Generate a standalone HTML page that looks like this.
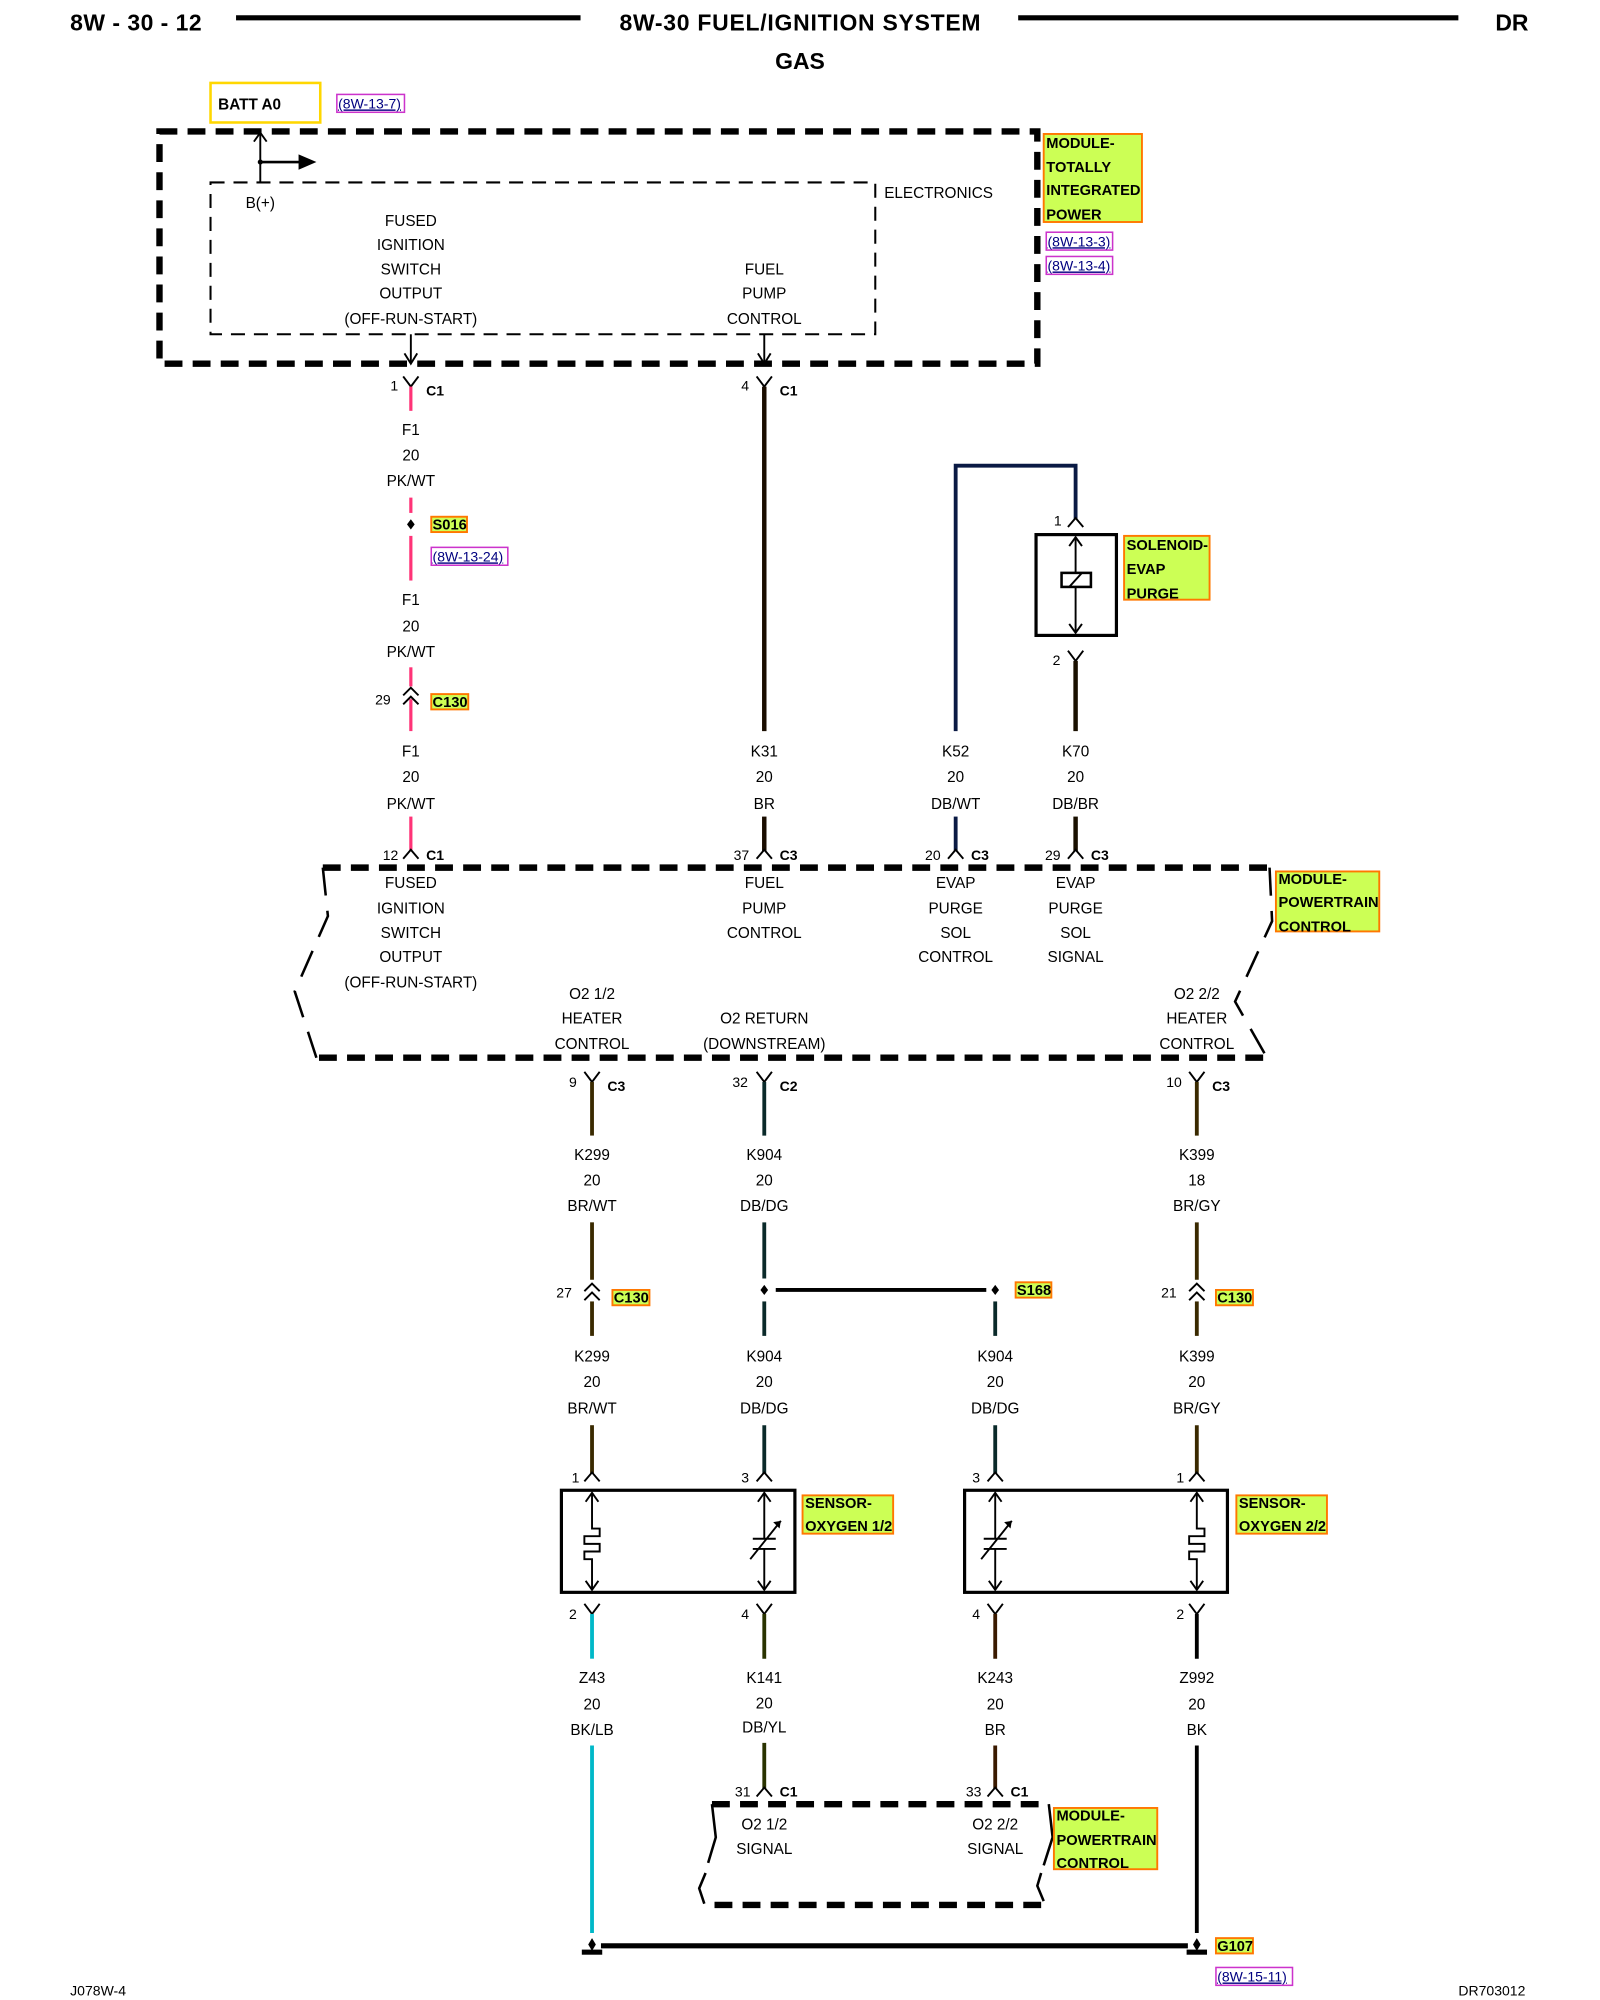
<!DOCTYPE html>
<html><head><meta charset="utf-8"><style>
html,body{margin:0;padding:0;background:#fff}
svg{display:block}
text{font-family:"Liberation Sans",Arial,sans-serif;font-size:12px;fill:#000}
.c{text-anchor:middle}
.b{font-weight:bold}
.h{font-weight:bold;font-size:18px}
.g{font-weight:bold;font-size:11.5px}
.r{font-size:11px;fill:#000080;text-decoration:underline}
.dk{stroke:#000;stroke-width:5;fill:none;stroke-dasharray:14 8}
.dt{stroke:#000;stroke-width:1.6;fill:none;stroke-dasharray:11 7}
.ln{stroke:#000;stroke-width:1.5;fill:none}
.lb{fill:#ccff55;stroke:#ff7700;stroke-width:1.5}
.rf{fill:#fff;stroke:#cc33cc;stroke-width:1.2}
</style></head><body>
<svg width="1600" height="2000" viewBox="0 0 1254 1567.5" preserveAspectRatio="none" xmlns="http://www.w3.org/2000/svg">
<!-- header -->
<text x="55" y="24" class="h" textLength="103">8W - 30 - 12</text>
<line x1="185" y1="14" x2="455" y2="14" stroke="#000" stroke-width="4"/>
<text x="627" y="24" class="h c" textLength="283">8W-30 FUEL/IGNITION SYSTEM</text>
<line x1="798" y1="14" x2="1143" y2="14" stroke="#000" stroke-width="4"/>
<text x="1172" y="24" class="h">DR</text>
<text x="627" y="54" class="h c">GAS</text>

<!-- BATT -->
<rect x="165" y="65" width="86" height="31" fill="#fff" stroke="#ffd700" stroke-width="2"/>
<text x="171" y="86" class="b" style="font-size:12px">BATT A0</text>
<rect x="264" y="74" width="53" height="14" class="rf"/>
<text x="265" y="85" class="r">(8W-13-7)</text>

<!-- TIPM -->
<rect x="125" y="103" width="688" height="182" class="dk"/>
<rect x="165" y="143" width="521" height="119" class="dt"/>
<line x1="204" y1="103" x2="204" y2="143" class="ln"/>
<path d="M199 111 L204 104 L209 111" class="ln"/>
<line x1="204" y1="127" x2="235" y2="127" stroke="#000" stroke-width="2"/>
<circle cx="204" cy="127" r="2"/>
<path d="M234 121 L248 127 L234 133 Z"/>
<text x="204" y="163" class="c">B(+)</text>
<text x="322" y="177" class="c">FUSED</text>
<text x="322" y="196" class="c">IGNITION</text>
<text x="322" y="215" class="c">SWITCH</text>
<text x="322" y="234" class="c">OUTPUT</text>
<text x="322" y="254" class="c">(OFF-RUN-START)</text>
<text x="599" y="215" class="c">FUEL</text>
<text x="599" y="234" class="c">PUMP</text>
<text x="599" y="254" class="c">CONTROL</text>
<text x="693" y="155">ELECTRONICS</text>
<line x1="322" y1="262" x2="322" y2="285" class="ln"/>
<path d="M317 277 L322 285 L327 277" class="ln"/>
<line x1="599" y1="262" x2="599" y2="285" class="ln"/>
<path d="M594 277 L599 285 L604 277" class="ln"/>
<rect x="818" y="105" width="77" height="69" class="lb"/>
<text x="820" y="116" class="g">MODULE-</text>
<text x="820" y="135" class="g">TOTALLY</text>
<text x="820" y="153" class="g">INTEGRATED</text>
<text x="820" y="172" class="g">POWER</text>
<rect x="820" y="182" width="52" height="14" class="rf"/>
<text x="821" y="193" class="r">(8W-13-3)</text>
<rect x="820" y="201" width="52" height="14" class="rf"/>
<text x="821" y="212" class="r">(8W-13-4)</text>

<!-- C1 connectors top -->
<path d="M316 295 L322 303 L328 295" class="ln"/>
<text x="306" y="306" style="font-size:11px">1</text><text x="334" y="310" class="b" style="font-size:11px">C1</text>
<path d="M593 295 L599 303 L605 295" class="ln"/>
<text x="581" y="306" style="font-size:11px">4</text><text x="611" y="310" class="b" style="font-size:11px">C1</text>

<!-- F1 pink wire -->
<g stroke="#ff3377" stroke-width="2.5">
<line x1="322" y1="303" x2="322" y2="322"/>
<line x1="322" y1="390" x2="322" y2="402"/>
<line x1="322" y1="420" x2="322" y2="455"/>
<line x1="322" y1="523" x2="322" y2="538"/>
<line x1="322" y1="548" x2="322" y2="573"/>
<line x1="322" y1="640" x2="322" y2="667"/>
</g>
<text x="322" y="341" class="c">F1</text><text x="322" y="361" class="c">20</text><text x="322" y="381" class="c">PK/WT</text>
<text x="322" y="474" class="c">F1</text><text x="322" y="495" class="c">20</text><text x="322" y="515" class="c">PK/WT</text>
<text x="322" y="593" class="c">F1</text><text x="322" y="613" class="c">20</text><text x="322" y="634" class="c">PK/WT</text>
<path d="M322 407 L325 411 L322 415 L319 411 Z"/>
<rect x="338" y="405" width="28" height="12" class="lb"/><text x="339" y="415" class="g">S016</text>
<rect x="338" y="429" width="60" height="14" class="rf"/><text x="339" y="440" class="r">(8W-13-24)</text>
<path d="M316 545 L322 539 L328 545 M316 552 L322 546 L328 552" class="ln" stroke-width="2"/>
<text x="294" y="552" style="font-size:11px">29</text>
<rect x="338" y="544" width="29" height="12" class="lb"/><text x="339" y="554" class="g">C130</text>

<!-- K31 -->
<line x1="599" y1="303" x2="599" y2="573" stroke="#1a0d00" stroke-width="3.5"/>
<text x="599" y="593" class="c">K31</text><text x="599" y="613" class="c">20</text><text x="599" y="634" class="c">BR</text>
<line x1="599" y1="640" x2="599" y2="667" stroke="#1a0d00" stroke-width="3.5"/>

<!-- K52 -->
<path d="M749 573 L749 365 L843 365 L843 407" stroke="#0a1a44" stroke-width="3" fill="none"/>
<path d="M837 413 L843 406 L849 413" class="ln"/>
<text x="826" y="412" style="font-size:11px">1</text>
<rect x="812" y="419" width="63" height="79" fill="none" stroke="#000" stroke-width="2.5"/>
<line x1="843" y1="421" x2="843" y2="496" class="ln"/>
<path d="M838 428 L843 421 L848 428 M838 489 L843 496 L848 489" class="ln"/>
<rect x="832" y="449" width="23" height="11" fill="#fff" stroke="#000" stroke-width="2"/>
<line x1="838" y1="460" x2="848" y2="449" class="ln"/>
<path d="M837 510 L843 518 L849 510" class="ln"/>
<text x="825" y="521" style="font-size:11px">2</text>
<line x1="843" y1="518" x2="843" y2="573" stroke="#1a1000" stroke-width="3.5"/>
<rect x="881" y="420" width="67" height="50" class="lb"/>
<text x="883" y="431" class="g">SOLENOID-</text><text x="883" y="450" class="g">EVAP</text><text x="883" y="469" class="g">PURGE</text>
<text x="749" y="593" class="c">K52</text><text x="749" y="613" class="c">20</text><text x="749" y="634" class="c">DB/WT</text>
<text x="843" y="593" class="c">K70</text><text x="843" y="613" class="c">20</text><text x="843" y="634" class="c">DB/BR</text>
<line x1="749" y1="640" x2="749" y2="667" stroke="#0a1a44" stroke-width="3"/>
<line x1="843" y1="640" x2="843" y2="667" stroke="#1a1000" stroke-width="3.5"/>

<!-- PCM connectors -->
<g class="ln">
<path d="M316 673 L322 666 L328 673"/><path d="M593 673 L599 666 L605 673"/>
<path d="M743 673 L749 666 L755 673"/><path d="M837 673 L843 666 L849 673"/>
</g>
<text x="300" y="674" style="font-size:11px">12</text><text x="334" y="674" class="b" style="font-size:11px">C1</text>
<text x="575" y="674" style="font-size:11px">37</text><text x="611" y="674" class="b" style="font-size:11px">C3</text>
<text x="725" y="674" style="font-size:11px">20</text><text x="761" y="674" class="b" style="font-size:11px">C3</text>
<text x="819" y="674" style="font-size:11px">29</text><text x="855" y="674" class="b" style="font-size:11px">C3</text>

<!-- PCM box -->
<line x1="253" y1="680" x2="995" y2="680" class="dk"/>
<line x1="250" y1="829" x2="993" y2="829" class="dk"/>
<path d="M253 680 L257 718 L231 777 L248 829" stroke="#000" stroke-width="2" fill="none" stroke-dasharray="22 12"/>
<path d="M995 680 L997 722 L968 785 L993 829" stroke="#000" stroke-width="2" fill="none" stroke-dasharray="22 12"/>
<text x="322" y="696" class="c">FUSED</text><text x="322" y="716" class="c">IGNITION</text><text x="322" y="735" class="c">SWITCH</text><text x="322" y="754" class="c">OUTPUT</text><text x="322" y="774" class="c">(OFF-RUN-START)</text>
<text x="599" y="696" class="c">FUEL</text><text x="599" y="716" class="c">PUMP</text><text x="599" y="735" class="c">CONTROL</text>
<text x="749" y="696" class="c">EVAP</text><text x="749" y="716" class="c">PURGE</text><text x="749" y="735" class="c">SOL</text><text x="749" y="754" class="c">CONTROL</text>
<text x="843" y="696" class="c">EVAP</text><text x="843" y="716" class="c">PURGE</text><text x="843" y="735" class="c">SOL</text><text x="843" y="754" class="c">SIGNAL</text>
<text x="464" y="783" class="c">O2 1/2</text><text x="464" y="802" class="c">HEATER</text><text x="464" y="822" class="c">CONTROL</text>
<text x="599" y="802" class="c">O2 RETURN</text><text x="599" y="822" class="c">(DOWNSTREAM)</text>
<text x="938" y="783" class="c">O2 2/2</text><text x="938" y="802" class="c">HEATER</text><text x="938" y="822" class="c">CONTROL</text>
<rect x="1000" y="683" width="81" height="47" class="lb"/>
<text x="1002" y="693" class="g">MODULE-</text><text x="1002" y="711" class="g">POWERTRAIN</text><text x="1002" y="730" class="g">CONTROL</text>

<!-- below PCM -->
<g class="ln">
<path d="M458 840 L464 848 L470 840"/><path d="M593 840 L599 848 L605 840"/><path d="M932 840 L938 848 L944 840"/>
</g>
<text x="446" y="852" style="font-size:11px">9</text><text x="476" y="855" class="b" style="font-size:11px">C3</text>
<text x="574" y="852" style="font-size:11px">32</text><text x="611" y="855" class="b" style="font-size:11px">C2</text>
<text x="914" y="852" style="font-size:11px">10</text><text x="950" y="855" class="b" style="font-size:11px">C3</text>
<g stroke-width="3">
<line x1="464" y1="848" x2="464" y2="890" stroke="#3a2a00"/>
<line x1="599" y1="848" x2="599" y2="890" stroke="#0a2a2a"/>
<line x1="938" y1="848" x2="938" y2="890" stroke="#3a2a00"/>
<line x1="464" y1="958" x2="464" y2="1003" stroke="#3a2a00"/>
<line x1="599" y1="958" x2="599" y2="1002" stroke="#0a2a2a"/>
<line x1="938" y1="958" x2="938" y2="1003" stroke="#3a2a00"/>
<line x1="464" y1="1020" x2="464" y2="1047" stroke="#3a2a00"/>
<line x1="599" y1="1020" x2="599" y2="1047" stroke="#0a2a2a"/>
<line x1="780" y1="1020" x2="780" y2="1047" stroke="#0a2a2a"/>
<line x1="938" y1="1020" x2="938" y2="1047" stroke="#3a2a00"/>
<line x1="608" y1="1011" x2="773" y2="1011" stroke="#000"/>
</g>
<path d="M599 1007 L602 1011 L599 1015 L596 1011 Z"/>
<path d="M780 1007 L783 1011 L780 1015 L777 1011 Z"/>
<rect x="796" y="1005" width="28" height="12" class="lb"/><text x="797" y="1015" class="g">S168</text>
<text x="464" y="909" class="c">K299</text><text x="464" y="929" class="c">20</text><text x="464" y="949" class="c">BR/WT</text>
<text x="599" y="909" class="c">K904</text><text x="599" y="929" class="c">20</text><text x="599" y="949" class="c">DB/DG</text>
<text x="938" y="909" class="c">K399</text><text x="938" y="929" class="c">18</text><text x="938" y="949" class="c">BR/GY</text>
<text x="464" y="1067" class="c">K299</text><text x="464" y="1087" class="c">20</text><text x="464" y="1108" class="c">BR/WT</text>
<text x="599" y="1067" class="c">K904</text><text x="599" y="1087" class="c">20</text><text x="599" y="1108" class="c">DB/DG</text>
<text x="780" y="1067" class="c">K904</text><text x="780" y="1087" class="c">20</text><text x="780" y="1108" class="c">DB/DG</text>
<text x="938" y="1067" class="c">K399</text><text x="938" y="1087" class="c">20</text><text x="938" y="1108" class="c">BR/GY</text>
<path d="M458 1012 L464 1006 L470 1012 M458 1019 L464 1013 L470 1019" class="ln" stroke-width="2"/>
<path d="M932 1012 L938 1006 L944 1012 M932 1019 L938 1013 L944 1019" class="ln" stroke-width="2"/>
<text x="436" y="1017" style="font-size:11px">27</text>
<text x="910" y="1017" style="font-size:11px">21</text>
<rect x="480" y="1011" width="29" height="12" class="lb"/><text x="481" y="1021" class="g">C130</text>
<rect x="953" y="1011" width="29" height="12" class="lb"/><text x="954" y="1021" class="g">C130</text>

<!-- sensor wires top -->
<g stroke-width="3">
<line x1="464" y1="1117" x2="464" y2="1155" stroke="#3a2a00"/>
<line x1="599" y1="1117" x2="599" y2="1155" stroke="#0a2a2a"/>
<line x1="780" y1="1117" x2="780" y2="1155" stroke="#0a2a2a"/>
<line x1="938" y1="1117" x2="938" y2="1155" stroke="#3a2a00"/>
</g>
<g class="ln">
<path d="M458 1161 L464 1154 L470 1161"/><path d="M593 1161 L599 1154 L605 1161"/>
<path d="M774 1161 L780 1154 L786 1161"/><path d="M932 1161 L938 1154 L944 1161"/>
</g>
<text x="448" y="1162" style="font-size:11px">1</text><text x="581" y="1162" style="font-size:11px">3</text>
<text x="762" y="1162" style="font-size:11px">3</text><text x="922" y="1162" style="font-size:11px">1</text>

<!-- sensor boxes -->
<rect x="440" y="1168" width="183" height="80" fill="none" stroke="#000" stroke-width="2.5"/>
<rect x="756" y="1168" width="206" height="80" fill="none" stroke="#000" stroke-width="2.5"/>
<g class="ln">
<path d="M464 1170 L464 1198 L470 1198 L470 1204 L458 1204 L458 1210 L470 1210 L470 1216 L458 1216 L458 1222 L464 1222 L464 1246"/>
<path d="M459 1177 L464 1170 L469 1177 M459 1239 L464 1246 L469 1239"/>
<path d="M599 1170 L599 1206 M599 1214 L599 1246 M590 1206 L608 1206 M590 1214 L608 1214 M588 1222 L612 1192"/>
<path d="M594 1177 L599 1170 L604 1177 M594 1239 L599 1246 L604 1239"/>
<path d="M780 1170 L780 1206 M780 1214 L780 1246 M771 1206 L789 1206 M771 1214 L789 1214 M769 1222 L793 1192"/>
<path d="M775 1177 L780 1170 L785 1177 M775 1239 L780 1246 L785 1239"/>
<path d="M938 1170 L938 1198 L944 1198 L944 1204 L932 1204 L932 1210 L944 1210 L944 1216 L932 1216 L932 1222 L938 1222 L938 1246"/>
<path d="M933 1177 L938 1170 L943 1177 M933 1239 L938 1246 L943 1239"/>
</g>
<path d="M612 1192 L606 1193 L611 1198 Z"/>
<path d="M793 1192 L787 1193 L792 1198 Z"/>
<rect x="629" y="1172" width="71" height="30" class="lb"/>
<text x="631" y="1182" class="g">SENSOR-</text><text x="631" y="1200" class="g">OXYGEN 1/2</text>
<rect x="969" y="1172" width="71" height="30" class="lb"/>
<text x="971" y="1182" class="g">SENSOR-</text><text x="971" y="1200" class="g">OXYGEN 2/2</text>

<!-- below sensors -->
<g class="ln">
<path d="M458 1257 L464 1265 L470 1257"/><path d="M593 1257 L599 1265 L605 1257"/>
<path d="M774 1257 L780 1265 L786 1257"/><path d="M932 1257 L938 1265 L944 1257"/>
</g>
<text x="446" y="1269" style="font-size:11px">2</text><text x="581" y="1269" style="font-size:11px">4</text>
<text x="762" y="1269" style="font-size:11px">4</text><text x="922" y="1269" style="font-size:11px">2</text>
<g stroke-width="3">
<line x1="464" y1="1265" x2="464" y2="1300" stroke="#00b8c8"/>
<line x1="599" y1="1265" x2="599" y2="1300" stroke="#2a3300"/>
<line x1="780" y1="1265" x2="780" y2="1300" stroke="#3a1a00"/>
<line x1="938" y1="1265" x2="938" y2="1300" stroke="#000"/>
<line x1="464" y1="1368" x2="464" y2="1515" stroke="#00b8c8"/>
<line x1="938" y1="1368" x2="938" y2="1515" stroke="#000"/>
<line x1="599" y1="1366" x2="599" y2="1402" stroke="#2a3300"/>
<line x1="780" y1="1368" x2="780" y2="1402" stroke="#3a1a00"/>
</g>
<text x="464" y="1319" class="c">Z43</text><text x="464" y="1340" class="c">20</text><text x="464" y="1360" class="c">BK/LB</text>
<text x="599" y="1319" class="c">K141</text><text x="599" y="1339" class="c">20</text><text x="599" y="1358" class="c">DB/YL</text>
<text x="780" y="1319" class="c">K243</text><text x="780" y="1340" class="c">20</text><text x="780" y="1360" class="c">BR</text>
<text x="938" y="1319" class="c">Z992</text><text x="938" y="1340" class="c">20</text><text x="938" y="1360" class="c">BK</text>
<g class="ln">
<path d="M593 1408 L599 1401 L605 1408"/><path d="M774 1408 L780 1401 L786 1408"/>
</g>
<text x="576" y="1408" style="font-size:11px">31</text><text x="611" y="1408" class="b" style="font-size:11px">C1</text>
<text x="757" y="1408" style="font-size:11px">33</text><text x="792" y="1408" class="b" style="font-size:11px">C1</text>

<!-- bottom PCM -->
<line x1="558" y1="1414" x2="822" y2="1414" class="dk"/>
<line x1="560" y1="1493" x2="822" y2="1493" class="dk"/>
<path d="M558 1414 L561 1440 L555 1460 M553 1468 L548 1480 L552 1492" stroke="#000" stroke-width="2" fill="none"/>
<path d="M822 1414 L825 1440 L818 1462 M816 1468 L813 1478 L818 1490" stroke="#000" stroke-width="2" fill="none"/>
<text x="599" y="1434" class="c">O2 1/2</text><text x="599" y="1453" class="c">SIGNAL</text>
<text x="780" y="1434" class="c">O2 2/2</text><text x="780" y="1453" class="c">SIGNAL</text>
<rect x="826" y="1417" width="81" height="48" class="lb"/>
<text x="828" y="1427" class="g">MODULE-</text><text x="828" y="1446" class="g">POWERTRAIN</text><text x="828" y="1464" class="g">CONTROL</text>

<!-- ground -->
<line x1="471" y1="1525" x2="931" y2="1525" stroke="#000" stroke-width="4"/>
<path d="M464 1519 L467 1524 L464 1529 L461 1524 Z"/>
<path d="M938 1519 L941 1524 L938 1529 L935 1524 Z"/>
<rect x="456" y="1528" width="16" height="4"/>
<rect x="930" y="1528" width="16" height="4"/>
<rect x="953" y="1519" width="29" height="12" class="lb"/><text x="954" y="1529" class="g">G107</text>
<rect x="953" y="1542" width="60" height="14" class="rf"/><text x="954" y="1553" class="r">(8W-15-11)</text>

<text x="55" y="1564" style="font-size:11px">J078W-4</text>
<text x="1143" y="1564" style="font-size:11px">DR703012</text>
</svg>
</body></html>
